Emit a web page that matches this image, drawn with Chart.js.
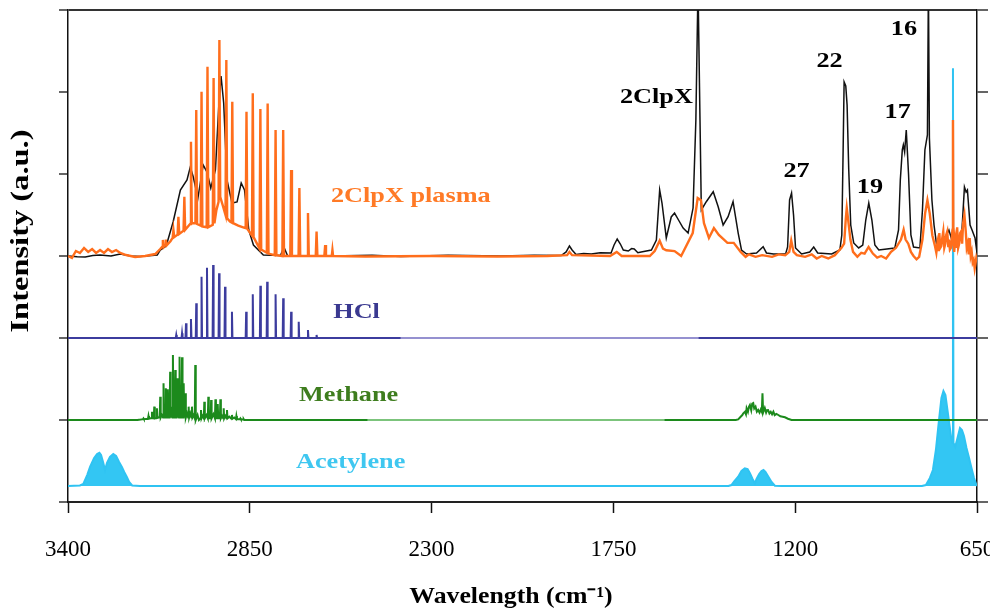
<!DOCTYPE html>
<html><head><meta charset="utf-8">
<script src="https://cdn.jsdelivr.net/npm/chart.js@4.4.0/dist/chart.umd.min.js"></script>
<style>html,body{margin:0;padding:0;background:#fff;overflow:hidden}canvas{display:block}</style>
</head><body>
<canvas id="c" width="990" height="613"></canvas>
<script>
const xTicks = [3400, 2850, 2300, 1750, 1200, 650];
const xTickLabels = ['3400', '2850', '2300', '1750', '1200', '650'];
const yTicks = [0, 1, 2, 3, 4, 5, 6];
const xTitle = 'Wavelength (cm⁻¹)';
const yTitle = 'Intensity (a.u.)';

// 2ClpX (black) spectrum, offset 3
const clpx = [[3400,3.0],[3372,2.99],[3348,2.988],[3325,3.005],[3303,3.012],[3270,3.0],[3242,3.024],[3210,3.0],[3182,2.994],[3130,3.012],[3121,3.073],[3103,3.122],[3082,3.415],[3060,3.805],[3040,3.927],[3030,4.085],[3021,3.963],[3007,3.707],[2991,4.11],[2979.5,4.024],[2968,3.829],[2954,4.049],[2944,4.817],[2937,5.195],[2929,4.866],[2919,3.927],[2904,3.646],[2888.5,3.659],[2876,3.89],[2866,3.805],[2853,3.317],[2839,3.134],[2809,3.012],[2757,3.006],[2747,3.11],[2736,3.006],[2606,3.0],[2480,3.01],[2393,2.994],[2250,3.008],[2090,3.0],[1990,3.01],[1908,3.006],[1893,3.049],[1883,3.122],[1875,3.073],[1863,3.018],[1840,3.03],[1817,3.024],[1790,3.04],[1757,3.037],[1748,3.134],[1738.5,3.207],[1729,3.146],[1720,3.073],[1705,3.061],[1695,3.09],[1687,3.085],[1676,3.04],[1666,3.049],[1635,3.073],[1620,3.195],[1610,3.805],[1603,3.646],[1590,3.22],[1575,3.476],[1565,3.524],[1553,3.439],[1539,3.341],[1524,3.28],[1509,3.585],[1500.5,4.659],[1494,6.3],[1488,4.659],[1484,3.561],[1469,3.662],[1448,3.784],[1433,3.601],[1418,3.378],[1403,3.479],[1388,3.662],[1372.5,3.28],[1362.5,3.073],[1347,3.024],[1317,3.037],[1297,3.113],[1287,3.037],[1265.5,3.024],[1229,3.024],[1223,3.11],[1217,3.683],[1211,3.768],[1205,3.5],[1199,3.098],[1180.6,3.024],[1156,3.049],[1144,3.11],[1132,3.037],[1089.6,3.024],[1065,3.073],[1059,3.256],[1055,4.293],[1052,5.122],[1047,5.073],[1043,4.841],[1038,4.049],[1032,3.378],[1023,3.159],[1008,3.098],[995.6,3.134],[986.5,3.439],[977.4,3.646],[968,3.439],[959,3.134],[947,3.073],[898.6,3.098],[887.4,3.317],[882,3.927],[876,4.293],[872.8,4.354],[869,4.268],[864,4.537],[857,3.988],[850,3.256],[842,3.11],[822.8,3.098],[815,3.561],[807.6,4.293],[800,4.476],[797,6.3],[794,4.439],[786.4,3.683],[780,3.378],[771,3.098],[756,3.195],[744,3.244],[735,3.317],[726,3.195],[716.7,3.134],[704.6,3.195],[695.5,3.317],[688,3.841],[683,3.78],[679,3.805],[671,3.378],[665,3.317],[656,3.22],[650,3.037]];

// 2ClpX plasma (orange) spectrum, offset 3
const plasma = [[3400,3.0],[3388,2.976],[3376,3.061],[3364,3.037],[3351.5,3.098],[3339,3.049],[3327,3.085],[3315,3.037],[3303,3.073],[3291,3.037],[3279,3.085],[3267,3.049],[3254.5,3.073],[3242,3.037],[3224,3.012],[3197,2.988],[3166.5,3.0],[3136,3.024],[3121,3.085],
[3115.5,3.11],[3113,3.195],[3110.5,3.11],
[3106.5,3.13],[3104,3.2],[3101.5,3.13],
[3090,3.18],
[3083.5,3.22],[3081,3.317],[3078.5,3.23],
[3068.5,3.26],[3066,3.479],[3063.5,3.27],
[3050.5,3.31],[3048,3.723],[3045.5,3.32],
[3030.5,3.39],[3028,4.394],[3025.5,3.4],
[3014.5,3.4],[3012,4.78],[3009.5,3.39],
[2998.5,3.37],[2996,5.004],[2993.5,3.36],
[2980.5,3.35],[2978,5.309],[2975.5,3.35],
[2962,3.38],[2959.5,5.171],[2957,3.4],
[2951,3.56],
[2944.5,3.66],[2942,5.634],[2939.5,3.72],
[2932,3.62],
[2923.5,3.5],[2921,5.39],[2918.5,3.46],
[2910,3.42],
[2905.5,3.41],[2903,4.882],[2900.5,3.4],
[2885,3.37],[2870,3.35],
[2862.5,3.34],[2860,4.76],[2857.5,3.33],
[2843.5,3.25],[2841,4.984],[2838.5,3.23],
[2820.5,3.09],[2818,4.793],[2815.5,3.08],
[2798.5,3.04],[2796,4.86],[2793.5,3.03],
[2774.5,3.01],[2772,4.537],[2769.5,3.01],
[2751.5,3.0],[2749,4.537],[2746.5,3.0],
[2727.5,3.0],[2725,4.049],[2722.5,3.0],
[2702.5,3.0],[2700,3.829],[2697.5,3.0],
[2676.5,3.0],[2674,3.524],[2671.5,3.0],
[2650.5,3.0],[2648,3.299],[2645.5,3.0],
[2624.5,3.0],[2622,3.134],[2619.5,3.0],
[2602,3.0],[2600,3.073],[2598,3.0],
[2500,2.994],[2300,3.0],[2100,2.994],[1950,3.0],[1890,3.01],[1883,3.05],[1875,3.01],[1760,3.0],[1740,3.05],[1725,3.0],[1640,3.0],[1625,3.06],[1610,3.187],[1600,3.09],[1590,3.07],[1565,3.06],[1545,3.0],[1510,3.28],[1495,3.707],[1485,3.68],[1476,3.4],[1461,3.22],[1446,3.34],[1431,3.256],[1405,3.16],[1386,3.16],[1365,3.05],[1350,2.99],[1340,3.02],[1320,2.99],[1300,3.01],[1270,2.99],[1250,3.02],[1230,3.01],[1218,3.05],[1212,3.19],[1205,3.05],[1195,3.01],[1170,2.99],[1150,3.02],[1135,2.97],[1120,3.0],[1100,2.97],[1080,3.01],[1060,3.1],[1052,3.15],[1047,3.45],[1044,3.585],[1040,3.45],[1033,3.2],[1025,3.05],[1012,2.99],[1000,3.04],[990,3.03],[978,3.11],[965,3.03],[952,2.98],[940,3.0],[925,2.97],[910,3.05],[895,3.1],[880,3.2],[872,3.32],[866,3.2],[858,3.15],[850,3.05],[842,3.0],[833,2.96],[825,2.99],[815,3.2],[807,3.52],[800,3.68],[793,3.52],[785,3.25],[777,3.12],[773,3.04],[770,3.15],[767,3.06],[764,3.28],[761,3.1],[758,3.12],[755,3.22],[752,3.3],[749,3.1],[746,3.15],[743,3.26],[740,3.3],[737,3.12],[735,3.2],[732,3.08],[729,3.1],[726,3.24],[724,3.2],[722.7,4.66],[721.4,3.15],[719,3.05],[716,3.2],[713,3.1],[710,3.35],[707,3.1],[704,3.15],[701,3.28],[698,3.3],[695,3.15],[692,3.4],[688,3.5],[684,3.3],[681,3.1],[678,3.15],[675,3.02],[672,3.22],[669,3.0],[666,3.05],[663,2.92],[660,2.95],[657,2.85],[655,2.9],[652,2.98],[650,2.95]];

// HCl reference, offset 2
const hcl = [[3400,2],[3080,2],
[3074,2],[3072.5,2.037],[3071,2],
[3056.5,2],[3055,2.057],[3053.5,2],
[3044.5,2],[3043,2.179],[3041.5,2],
[3029.5,2],[3028,2.232],[3026.5,2],
[3013.5,2],[3012,2.423],[3010.5,2],
[2997.5,2],[2996,2.748],[2994.5,2],
[2981,2],[2979.5,2.857],[2978,2],
[2962.5,2],[2961,2.89],[2959.5,2],
[2944.5,2],[2943,2.789],[2941.5,2],
[2926.5,2],[2925,2.626],[2923.5,2],
[2905.5,2],[2904,2.321],[2902.5,2],
[2862.5,2],[2861,2.321],[2859.5,2],
[2842.5,2],[2841,2.533],[2839.5,2],
[2819.5,2],[2818,2.638],[2816.5,2],
[2799,2],[2797.5,2.687],[2796,2],
[2773.5,2],[2772,2.533],[2770.5,2],
[2750.5,2],[2749,2.484],[2747.5,2],
[2726.5,2],[2725,2.321],[2723.5,2],
[2703.5,2],[2702,2.199],[2700.5,2],
[2675.5,2],[2674,2.098],[2672.5,2],
[2649.5,2],[2648,2.037],[2646.5,2],
[2393,2],[1493,2],[650,2]];

// Methane reference, offset 1
const methane = [[3400,1],[3190,1],[3180,1.005],
[3173.2,1.01],[3171.7,1.02],[3170.2,1.01],
[3158,1.015],[3156.5,1.049],[3155,1.015],
[3150,1.02],
[3147.5,1.02],[3146,1.101],[3144.5,1.02],
[3140.5,1.02],[3139,1.163],[3137.5,1.02],
[3132.5,1.025],[3131,1.143],[3129.5,1.025],
[3126,1.03],
[3122.5,1.03],[3121,1.284],[3119.5,1.03],
[3116,1.06],
[3112.5,1.03],[3111,1.447],[3109.5,1.03],
[3105.5,1.03],[3104,1.386],[3102.5,1.03],
[3099.5,1.03],[3098,1.374],[3096.5,1.03],
[3092.5,1.03],[3091,1.589],[3089.5,1.03],
[3086,1.1],
[3084.1,1.03],[3082.6,1.793],[3081.1,1.03],
[3077.1,1.03],[3075.6,1.61],[3074.1,1.03],
[3071.5,1.03],[3070,1.508],[3068.5,1.03],
[3066,1.1],
[3064,1.03],[3062.5,1.772],[3061,1.03],
[3056.5,1.03],[3055,1.765],[3053.5,1.03],
[3051.5,1.03],[3050,1.447],[3048.5,1.03],
[3046.5,1.03],[3045,1.325],[3043.5,1.03],
[3040,1.08],
[3036.5,1.03],[3035,1.163],[3033.5,1.03],
[3030,1.08],
[3026.5,1.03],[3025,1.163],[3023.5,1.03],
[3020,1.06],
[3016.5,1.02],[3015,1.671],[3013.5,1.0],
[3008,1.06],[3004,1.0],
[2999.2,1.02],[2997.7,1.122],[2996.2,1.02],
[2993,1.05],
[2989.1,1.02],[2987.6,1.223],[2986.1,1.02],
[2981,1.06],
[2977,1.02],[2975.5,1.284],[2974,1.02],
[2968.5,1.02],[2967,1.244],[2965.5,1.02],
[2960,1.07],
[2955.5,1.02],[2954,1.252],[2952.5,1.02],
[2948.5,1.02],[2947,1.195],[2945.5,1.02],
[2940.5,1.02],[2939,1.252],[2937.5,1.02],
[2934,1.05],
[2930.5,1.02],[2929,1.143],[2927.5,1.02],
[2924,1.05],
[2920.5,1.02],[2919,1.122],[2917.5,1.02],
[2912,1.04],
[2905.5,1.015],[2904,1.061],[2902.5,1.015],
[2897,1.03],
[2892,1.01],[2890.6,1.049],[2889,1.01],
[2880,1.01],[2878.5,1.02],[2877,1.01],
[2870,1.005],[2868.5,1.01],[2867,1.0],
[2850,1],[2493,1],[1596,1],[1380,1],
[1372.5,1.008],[1365,1.04],[1360,1.06],[1357,1.082],[1352,1.1],[1349,1.07],[1347,1.143],[1343,1.1],[1340,1.16],[1337,1.183],[1333,1.12],[1330,1.2],[1327,1.207],[1324,1.14],[1320,1.163],[1316,1.1],[1312,1.122],[1308,1.09],[1304,1.13],[1301,1.1],[1299,1.326],[1297,1.09],[1292,1.146],[1288,1.09],[1285,1.12],[1282,1.122],[1278,1.08],[1274,1.1],[1270,1.07],[1266,1.101],[1262,1.06],[1257,1.075],[1251,1.061],[1245,1.045],[1238,1.04],[1231,1.033],[1222,1.015],[1211,1.0],[650,1]];

// Acetylene reference, offset 0.195
const acetyleneBase = 0.195;
const acetylene = [[3400,0.195],[3364,0.201],[3353.6,0.22],[3342,0.329],[3333,0.43],[3321,0.537],[3312,0.585],[3305,0.601],[3300,0.573],[3294,0.488],[3288,0.39],[3282,0.476],[3273,0.549],[3263,0.585],[3254.5,0.561],[3245.5,0.488],[3237,0.427],[3230,0.366],[3222,0.305],[3215,0.244],[3206,0.201],[3182,0.195],
[1402,0.195],[1393,0.207],[1384,0.256],[1372.5,0.309],[1362.5,0.378],[1352.5,0.411],[1344,0.402],[1337,0.35],[1329,0.28],[1322,0.228],[1317,0.28],[1309,0.341],[1302,0.378],[1296,0.39],[1290,0.366],[1280.6,0.305],[1271.5,0.244],[1261.5,0.199],[1241,0.195],
[816.7,0.195],[804.6,0.207],[792.5,0.293],[783.4,0.39],[774.4,0.634],[765,1.0],[757.6,1.268],[751.5,1.354],[745.5,1.305],[739.4,1.122],[733.4,0.939],[727.3,0.756],[724.2,0.72],[722.7,5.29],[721.2,0.72],[715.8,0.674],[709,0.78],[701.5,0.902],[695.5,0.878],[689.4,0.805],[681.8,0.659],[674,0.537],[666.7,0.415],[659,0.293],[652,0.207],[650,0.195]];

// text labels placed in data coordinates
const labelTexts = ['2ClpX plasma', 'HCl', 'Methane', 'Acetylene', '2ClpX', '27', '22', '19', '17', '16'];
const labelX = [2363, 2527, 2551, 2545, 1620, 1196, 1096, 974, 890, 871];
const labelY = [3.73, 2.305, 1.293, 0.476, 4.927, 4.024, 5.366, 3.829, 4.744, 5.756];
const labelColors = ['#ff7a26', '#3a3990', '#3e7d1e', '#3fc7f0', '#000', '#000', '#000', '#000', '#000', '#000'];

const toXY = pts => pts.map(p => ({x: p[0], y: p[1]}));

function stretchedText(ctx, text, x, y, sx, rot) {
  ctx.save();
  ctx.translate(x, y);
  if (rot) ctx.rotate(rot);
  ctx.scale(sx, 1);
  ctx.fillText(text, 0, 0);
  ctx.restore();
}

const annot = {
  id: 'annot',
  afterDatasetsDraw(chart) {
    const {ctx, scales: {x, y}} = chart;
    ctx.save();
    ctx.font = 'bold 21px "Liberation Serif"';
    ctx.textAlign = 'center';
    ctx.textBaseline = 'middle';
    labelTexts.forEach((t, i) => {
      ctx.fillStyle = labelColors[i];
      stretchedText(ctx, t, x.getPixelForValue(labelX[i]), y.getPixelForValue(labelY[i]), 1.25, 0);
    });
    ctx.restore();
  },
  afterDraw(chart) {
    const {ctx, chartArea} = chart;
    ctx.save();
    ctx.fillStyle = '#000';
    ctx.textAlign = 'center';
    ctx.textBaseline = 'middle';
    ctx.font = 'bold 23px "Liberation Serif"';
    stretchedText(ctx, xTitle, chartArea.left + 443, chartArea.bottom + 95, 1.12, 0);
    ctx.font = 'bold 26px "Liberation Serif"';
    stretchedText(ctx, yTitle, 21, chartArea.top + 221, 1.25, -Math.PI / 2);
    ctx.restore();
  }
};

Chart.defaults.font.family = '"Liberation Serif", serif';
const yAxisCommon = {
  min: 0, max: 6,
  afterBuildTicks: s => { s.ticks = yTicks.map(v => ({value: v})); },
  ticks: {display: false},
};

new Chart(document.getElementById('c'), {
  type: 'line',
  data: {
    datasets: [
      {data: toXY(plasma), borderColor: '#ff6e1c', borderWidth: 2.4},
      {data: toXY(clpx), borderColor: '#111', borderWidth: 1.5},
      {data: toXY(methane), borderColor: '#1c8a1c', borderWidth: 2,
        segment: {borderColor: c => (c.p0.parsed.x <= 2493 && c.p1.parsed.x >= 1596) ? '#7cc47c' : undefined}},
      {data: toXY(hcl), borderColor: '#3c3c9e', borderWidth: 2,
        segment: {borderColor: c => (c.p0.parsed.x <= 2393 && c.p1.parsed.x >= 1493) ? '#9591d0' : undefined}},
      {data: toXY(acetylene), borderColor: '#2fc3f2', backgroundColor: '#33c6f3', borderWidth: 2, fill: {value: acetyleneBase}}
    ]
  },
  options: {
    responsive: false,
    animation: false,
    devicePixelRatio: 1,
    layout: {padding: {top: 10, left: 0, right: 0, bottom: 0}},
    elements: {point: {radius: 0}, line: {tension: 0}},
    plugins: {legend: {display: false}, tooltip: {enabled: false}},
    scales: {
      x: {
        type: 'linear', reverse: true, min: 650, max: 3400,
        afterBuildTicks: s => { s.ticks = xTicks.map(v => ({value: v})); },
        ticks: {callback: v => xTickLabels[xTicks.indexOf(v)], font: {size: 23}, color: '#000', padding: 23, maxRotation: 0, autoSkip: false},
        grid: {drawOnChartArea: false, drawTicks: true, tickLength: 11, tickColor: '#111', tickWidth: 1.5},
        border: {display: true, color: '#222', width: 2},
        title: {display: false},
        afterFit: s => { s.height = 111; s.paddingLeft = 0; s.paddingRight = 0; }
      },
      y: Object.assign({}, yAxisCommon, {
        position: 'left',
        grid: {color: c => (c.tick && (c.tick.value === 6 || c.tick.value === 0)) ? '#333' : 'rgba(0,0,0,0)', lineWidth: 2, drawTicks: true, tickLength: 9, tickColor: '#111', tickWidth: 1.3},
        border: {display: true, color: '#111', width: 1.5},
        title: {display: false},
        afterFit: s => { s.width = 68; }
      }),
      y2: Object.assign({}, yAxisCommon, {
        position: 'right',
        grid: {color: c => (c.tick && c.tick.value === 0) ? '#333' : 'rgba(0,0,0,0)', lineWidth: 2, drawTicks: true, tickLength: 11, tickColor: '#111', tickWidth: 1.3},
        border: {display: true, color: '#111', width: 1.5},
        afterFit: s => { s.width = 13; }
      })
    }
  },
  plugins: [annot]
});
</script>
</body></html>
